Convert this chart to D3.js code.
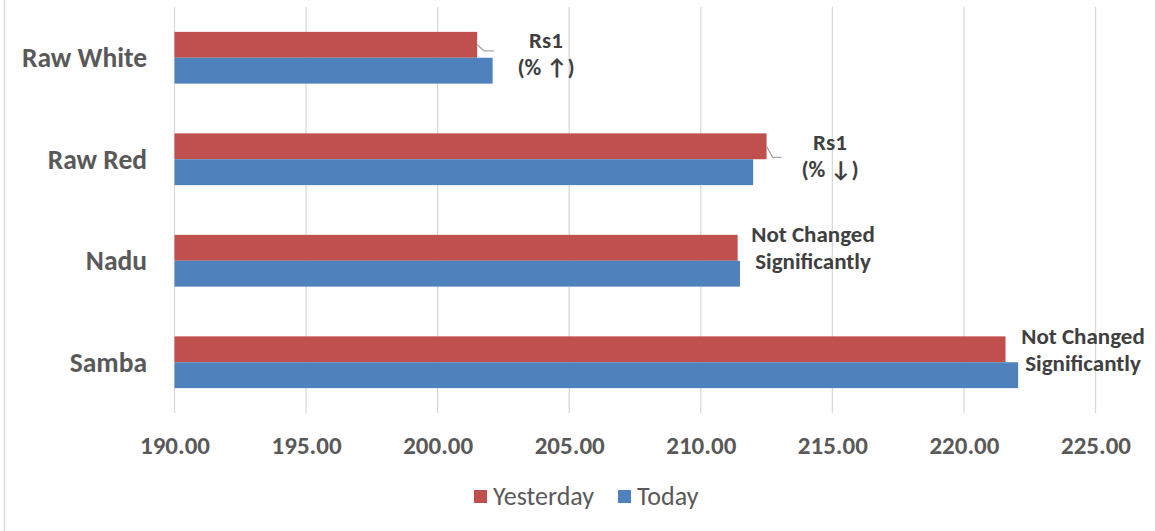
<!DOCTYPE html>
<html><head><meta charset="utf-8">
<script src="https://cdn.jsdelivr.net/npm/d3@7"></script>
<style>body{margin:0;background:#fff;} svg{display:block;}</style>
</head><body>
<svg id="c" width="1155" height="531"></svg>
<script>
const categories = ["Raw White", "Raw Red", "Nadu", "Samba"];
const yesterday = [201.50, 212.50, 211.40, 221.58];
const today = [202.09, 211.99, 211.49, 222.06];
const seriesNames = ["Yesterday", "Today"];
const seriesColors = ["#C0504D", "#4F81BD"];
const tickValues = [190, 195, 200, 205, 210, 215, 220, 225];
const labelLines = [["Rs1", "(% \u2191)"], ["Rs1", "(% \u2193)"], ["Not Changed", "Significantly"], ["Not Changed", "Significantly"]];

const svg = d3.select("#c");
const font = "Carlito, Calibri, 'Open Sans', sans-serif";
const plotL = 174.5, plotR = 1095.5, plotT = 7, plotB = 413;

svg.append("line").attr("x1", 4.5).attr("x2", 4.5).attr("y1", 0).attr("y2", 531)
  .attr("stroke", "#D9D9D9").attr("stroke-width", 1.5);

const x = d3.scaleLinear().domain([190, 225]).range([plotL, plotR]);
const y = d3.scaleBand().domain(categories).range([plotT, plotB]).paddingInner(0.49).paddingOuter(0.245);
const sub = d3.scaleBand().domain(seriesNames).range([0, y.bandwidth()]);

// gridlines
svg.append("g").selectAll("line").data(tickValues).join("line")
  .attr("x1", d => x(d)).attr("x2", d => x(d)).attr("y1", plotT).attr("y2", plotB)
  .attr("stroke", "#D9D9D9").attr("stroke-width", 1.3);

// bars
const data = [yesterday, today];
data.forEach((vals, si) => {
  svg.append("g").selectAll("rect").data(categories).join("rect")
    .attr("x", x(190))
    .attr("y", c => y(c) + sub(seriesNames[si]))
    .attr("width", (c, i) => x(vals[i]) - x(190))
    .attr("height", sub.bandwidth())
    .attr("fill", seriesColors[si]);
});

// x tick labels
const xAxis = d3.axisBottom(x).tickValues(tickValues).tickFormat(d3.format(".2f")).tickSize(0).tickPadding(0);
const gx = svg.append("g").attr("transform", `translate(0,${plotB})`).call(xAxis);
gx.select(".domain").remove();
gx.selectAll("text").attr("y", 41).attr("dy", 0)
  .attr("font-family", font).attr("font-size", 25).attr("font-weight", "bold").attr("fill", "#595959");

// category labels
const yAxis = d3.axisLeft(y).tickSize(0).tickPadding(0);
const gy = svg.append("g").attr("transform", `translate(147,0)`).call(yAxis);
gy.select(".domain").remove();
gy.selectAll("text").attr("dy", "0.35em")
  .attr("font-family", font).attr("font-size", 27.5).attr("font-weight", "bold").attr("fill", "#595959");

// data labels
const labelPos = [
  {cx: 546, y0: 48},
  {cx: 830, y0: 150},
  {cx: 813, y0: 242},
  {cx: 1083, y0: 344}
];
categories.forEach((c, i) => {
  const t = svg.append("text").attr("text-anchor", "middle")
    .attr("font-family", font).attr("font-size", 23).attr("font-weight", "bold").attr("fill", "#404040");
  labelLines[i].forEach((ln, k) => {
    t.append("tspan").attr("x", labelPos[i].cx).attr("y", labelPos[i].y0 + k * 27).text(ln);
  });
});

// leader lines
const leaders = [
  {i: 0, dy: 6, dx: 7, len: 10},
  {i: 1, dy: 11, dx: 6, len: 9}
];
leaders.forEach(l => {
  const xs = x(yesterday[l.i]);
  const ys = y(categories[l.i]) + sub.bandwidth() * 0.5;
  svg.append("path")
    .attr("d", `M${xs},${ys} L${xs + l.dx},${ys + l.dy} L${xs + l.dx + l.len},${ys + l.dy}`)
    .attr("fill", "none").attr("stroke", "#A6A6A6").attr("stroke-width", 1.3);
});

// legend
const legend = [{name: "Yesterday", x: 474}, {name: "Today", x: 618}];
legend.forEach((l, i) => {
  svg.append("rect").attr("x", l.x).attr("y", 490).attr("width", 13).attr("height", 13).attr("fill", seriesColors[i]);
  svg.append("text").attr("x", l.x + 19).attr("y", 505)
    .attr("font-family", font).attr("font-size", 26).attr("fill", "#595959").text(l.name);
});
</script>
</body></html>
